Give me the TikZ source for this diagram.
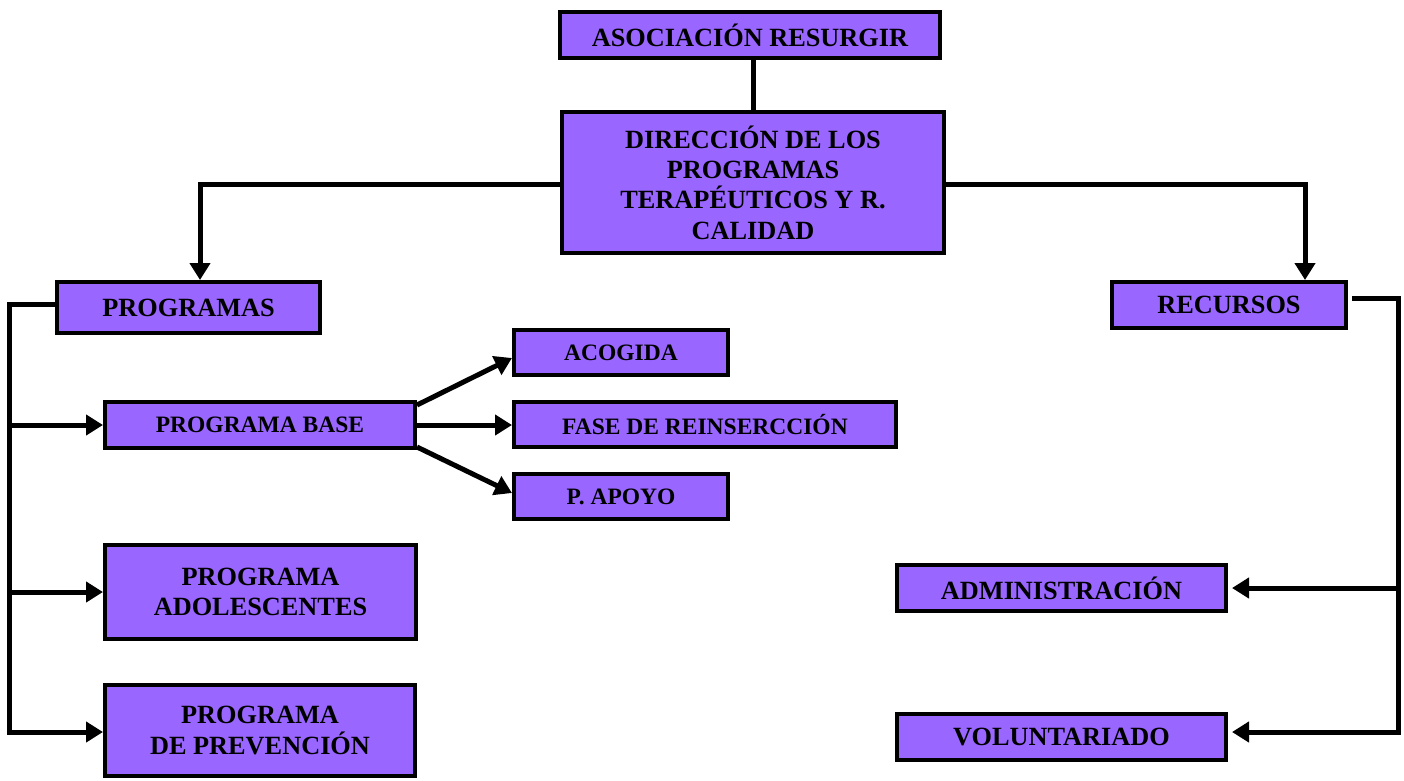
\documentclass[tikz,border=0pt]{standalone}
\usepackage{fontspec}
\setmainfont{Liberation Serif}
\usetikzlibrary{arrows.meta}
\definecolor{boxfill}{HTML}{9966FF}
\tikzset{
  orgbox/.style 2 args={draw=black, fill=boxfill, line width=4pt, inner sep=0pt,
    minimum width=#1pt-4pt, minimum height=#2pt-4pt, align=center,
    font=\bfseries\fontsize{26.3pt}{30.3pt}\selectfont},
  smallbox/.style={font=\bfseries\fontsize{23.5pt}{27pt}\selectfont},
  conn/.style={line width=5pt, draw=black},
  arr/.style={conn, -{Triangle[length=17pt,width=20pt]}}
}
\begin{document}
\begin{tikzpicture}[x=1pt,y=-1pt]
\useasboundingbox (0,0) rectangle (1404,780);
% nodes
\node[orgbox={384}{50}] (asoc) at (750,35) {ASOCIACIÓN RESURGIR};
\node[orgbox={386}{145}] (dir) at (753,182.5) {DIRECCIÓN DE LOS\\PROGRAMAS\\TERAPÉUTICOS Y R.\\CALIDAD};
\node[orgbox={267}{55}] (prog) at (188.5,307.5) {PROGRAMAS};
\node[orgbox={314}{50},smallbox] (base) at (260,425) {PROGRAMA BASE};
\node[orgbox={218}{49},smallbox] (acog) at (621,352.5) {ACOGIDA};
\node[orgbox={386}{49},smallbox] (fase) at (705,424.5) {FASE DE REINSERCCIÓN};
\node[orgbox={218}{49},smallbox] (apoyo) at (621,496.5) {P. APOYO};
\node[orgbox={315}{98}] (adol) at (260.5,592) {PROGRAMA\\ADOLESCENTES};
\node[orgbox={314}{95}] (prev) at (260,730.5) {PROGRAMA\\DE PREVENCIÓN};
\node[orgbox={238}{50}] (recur) at (1229,305) {RECURSOS};
\node[orgbox={333}{50}] (admin) at (1061.5,588) {ADMINISTRACIÓN};
\node[orgbox={333}{50}] (volun) at (1061.5,737) {VOLUNTARIADO};
% helper coordinates
\coordinate (lft) at (9,304);
\coordinate (rgt) at (1398,298);
% connectors
\draw[conn] (asoc.south -| dir.north) -- (dir.north);
\draw[arr] ([yshift=-1.5pt]dir.west) -| ([xshift=11.5pt]prog.north);
\draw[arr] ([yshift=-1.5pt]dir.east) -| ([xshift=76pt]recur.north);
\draw[arr] ([yshift=3.5pt]prog.west) -- (lft) |- ([yshift=-1.5pt]prev.west);
\draw[arr] (lft |- base.west) -- (base.west);
\draw[arr] (lft |- adol.west) -- (adol.west);
\draw[arr] ([yshift=20pt]base.east) -- ([yshift=-5.5pt]acog.west);
\draw[arr] (base.east) -- (fase.west |- base.east);
\draw[arr] ([yshift=-22pt]base.east) -- ([yshift=3.5pt]apoyo.west);
\draw[arr] ([xshift=4pt,yshift=7pt]recur.east) -- (rgt) |- ([xshift=4pt,yshift=5pt]volun.east);
\draw[arr] (rgt |- admin.east) -- ([xshift=4pt]admin.east);
\end{tikzpicture}
\end{document}
